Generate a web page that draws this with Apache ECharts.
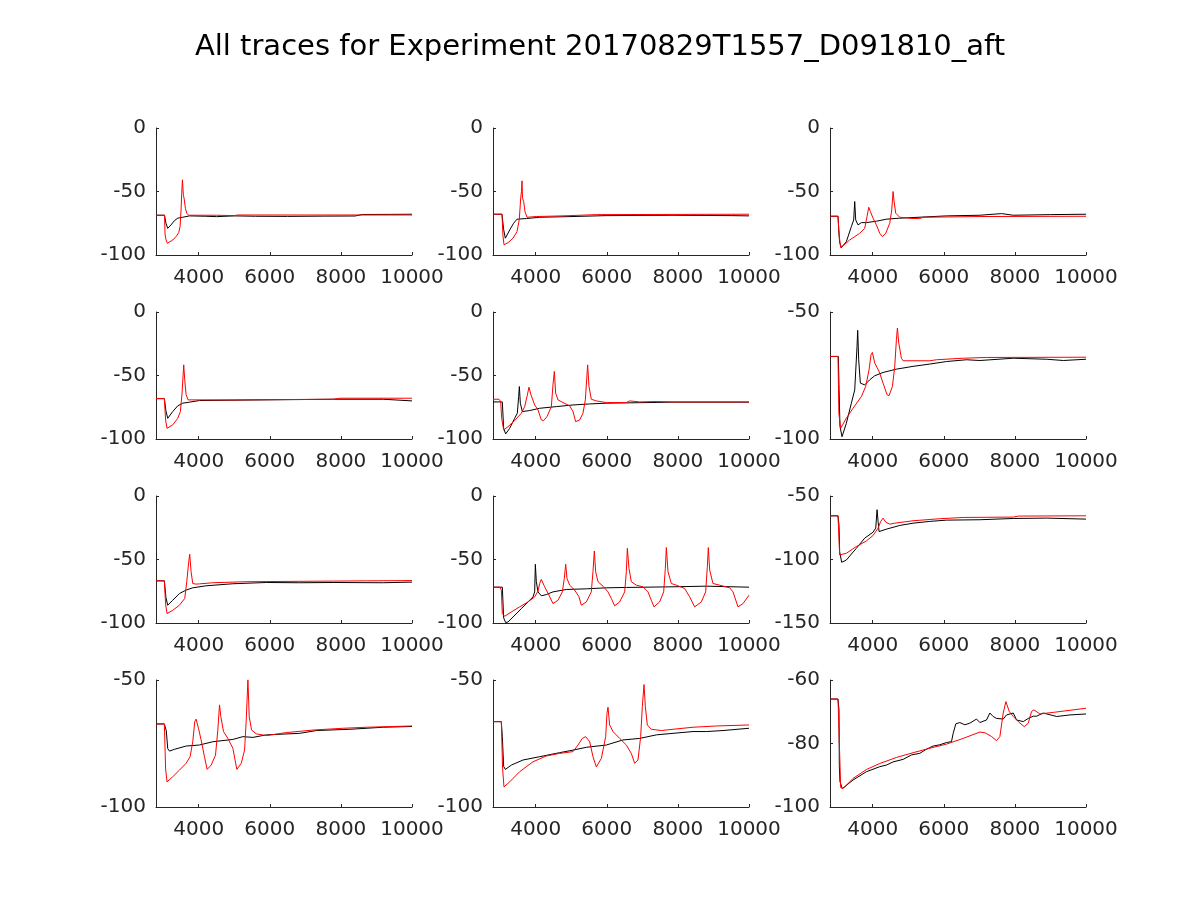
<!DOCTYPE html>
<html>
<head>
<meta charset="utf-8">
<title>All traces</title>
<script src="https://cdn.jsdelivr.net/npm/echarts@6/dist/echarts.min.js"></script>
<style>
  html, body { margin: 0; padding: 0; background: #fff; }
  #chart { width: 1200px; height: 900px; }
</style>
</head>
<body>
<div id="chart"></div>
<script>
// tick labels
const xTicks = [4000, 6000, 8000, 10000]
const yTicks = [
  [-100, -50, 0], [-100, -50, 0], [-100, -50, 0],
  [-100, -50, 0], [-100, -50, 0], [-100, -50],
  [-100, -50, 0], [-100, -50, 0], [-150, -100, -50],
  [-100, -50], [-100, -50], [-100, -80, -60]
]

// traces: [time, voltage]
const blk1 = [[2800,-68.7],[3040,-68.7],[3080,-75],[3130,-79],[3170,-78.5],[3223,-76.3],[3317,-73],[3411,-71],[3552,-70.3],[3740,-69.2],[4200,-69.5],[4500,-69.8],[5000,-69.2],[5600,-69.5],[6500,-69.6],[7500,-69.4],[8400,-69.3],[8600,-68.1],[9400,-68],[10000,-67.9]]
const red1 = [[2800,-68.7],[3040,-68.7],[3054,-83.4],[3082,-88],[3120,-90.8],[3176,-90],[3270,-88.2],[3364,-85.5],[3439,-82.4],[3477,-77.6],[3505,-64.5],[3524,-51.3],[3543,-40.8],[3561,-40.3],[3570,-53],[3590,-55.3],[3627,-63.2],[3665,-67.1],[3721,-68.7],[4500,-68.7],[5000,-69],[5100,-68.5],[10000,-68.5]]

const blk2 = [[2800,-67.9],[3053,-67.9],[3100,-80],[3147,-86.8],[3270,-80.3],[3380,-75],[3475,-71.8],[3737,-71.3],[4112,-70.3],[5050,-69.7],[5987,-69],[7862,-68.7],[9500,-69],[10000,-69.2]]
const red2 = [[2800,-67.9],[3053,-67.9],[3080,-85],[3110,-92],[3222,-90.3],[3362,-86.8],[3475,-81.6],[3540,-72],[3580,-55],[3600,-50],[3616,-41.6],[3630,-55],[3662,-57.9],[3700,-65.8],[3756,-70.3],[4019,-69.7],[4769,-69.2],[5706,-68.2],[10000,-67.9]]

const blk3 = [[2800,-69.5],[3025,-69.5],[3045,-80],[3070,-90],[3119,-94.2],[3260,-89.5],[3401,-77.6],[3466,-72.4],[3495,-57.9],[3523,-72.4],[3588,-76.3],[3682,-74.5],[3823,-74.5],[4105,-73.4],[4386,-71.8],[4762,-71],[5137,-70.5],[6076,-69.2],[7015,-68.7],[7625,-67.4],[7954,-68.7],[9000,-68.2],[10000,-67.9]]
const red3 = [[2800,-69.5],[3025,-69.5],[3060,-85],[3100,-94.2],[3354,-88.2],[3635,-82.9],[3776,-79],[3842,-69.7],[3889,-62.4],[3936,-65.8],[4011,-71],[4105,-76.3],[4199,-82.9],[4274,-85.5],[4368,-82.9],[4480,-75],[4537,-64.5],[4574,-50],[4603,-57.9],[4649,-67.1],[4762,-70.3],[5137,-71.3],[5325,-71.3],[5419,-70.3],[7015,-69.7],[10000,-69.5]]

const blk4 = [[2800,-68.2],[3035,-68.2],[3080,-78],[3130,-83.7],[3270,-78.4],[3411,-73.9],[3552,-71.8],[3740,-71],[4022,-69.7],[5902,-69.2],[7782,-68.7],[9192,-68.7],[10000,-70]]
const red4 = [[2800,-68.2],[3035,-68.2],[3070,-85],[3110,-91.6],[3270,-88.9],[3411,-83.7],[3486,-78.4],[3533,-63.9],[3580,-41.6],[3608,-53.4],[3646,-65],[3702,-69.2],[4962,-69.2],[4981,-68.7],[7782,-68.7],[7970,-67.9],[10000,-67.9]]

const blk5 = [[2800,-70.8],[3062,-70.8],[3100,-91.6],[3156,-96],[3269,-91.6],[3409,-83.7],[3484,-79.7],[3522,-66.6],[3541,-58.7],[3569,-71.8],[3625,-78.4],[3831,-77.6],[4112,-75.8],[4581,-74.5],[5050,-73.2],[5519,-72.4],[5987,-71.8],[7862,-71],[10000,-71]]
const red5 = [[2800,-68.7],[2969,-68.7],[3016,-70.5],[3044,-83.7],[3100,-92.9],[3222,-90.3],[3409,-85.5],[3597,-79.7],[3691,-74.5],[3756,-66.6],[3812,-59.2],[3869,-65.3],[3972,-73.2],[4066,-77.1],[4159,-85],[4225,-85.5],[4319,-82.4],[4441,-74.5],[4487,-57.4],[4525,-46.8],[4562,-63.9],[4628,-69.2],[4769,-71.3],[4956,-73.9],[5050,-78.4],[5125,-86.3],[5237,-85],[5331,-79.7],[5397,-69.2],[5434,-53.4],[5462,-41.6],[5500,-58.7],[5565,-68.7],[5706,-70],[5987,-71.3],[6550,-71.3],[6644,-70],[6925,-70.8],[7393,-70.5],[7862,-70.8],[10000,-70.8]]

const blk6 = [[2800,-67.5],[3035,-67.5],[3055,-80.4],[3080,-95],[3138,-99.1],[3260,-93.8],[3401,-85.9],[3495,-80.7],[3560,-63.6],[3579,-57.2],[3607,-68.8],[3654,-78],[3776,-78.7],[3917,-76.7],[4058,-75.1],[4293,-73.8],[4668,-72.5],[5137,-71.4],[5606,-70.5],[6076,-69.5],[6639,-68.8],[7015,-69.1],[7954,-68.2],[8893,-68.6],[9362,-69.1],[10000,-68.6]]
const red6 = [[2800,-67.5],[3025,-67.5],[3050,-90],[3100,-95.8],[3260,-91.8],[3447,-87.9],[3682,-83.3],[3804,-79.3],[3898,-72.8],[3954,-66.8],[3992,-65.9],[4058,-70.1],[4180,-73.4],[4293,-78],[4405,-82.6],[4462,-82.9],[4556,-79.3],[4621,-71.4],[4668,-60.9],[4696,-56.3],[4734,-62.2],[4809,-68.2],[4856,-69.2],[5606,-69.2],[5794,-68.8],[6545,-68.2],[7202,-67.9],[10000,-67.8]]

const blk7 = [[2800,-66.8],[3035,-66.8],[3080,-80],[3130,-86],[3270,-82.1],[3458,-76.8],[3646,-74.1],[3834,-72.3],[4210,-70.7],[4962,-69.1],[5902,-68.1],[6842,-68.3],[7782,-68.1],[9192,-68.3],[10000,-67.8]]
const red7 = [[2800,-66.8],[3035,-66.8],[3070,-85],[3110,-92.6],[3270,-90],[3458,-86],[3608,-80.7],[3665,-67.5],[3721,-51.7],[3749,-45.9],[3787,-59.6],[3834,-68.9],[3928,-69.4],[4022,-69.2],[4398,-68.3],[5338,-67.5],[8722,-66.8],[10000,-66.6]]

const blk8 = [[2800,-71.8],[3062,-71.8],[3100,-96],[3156,-99.7],[3222,-99.2],[3362,-95.3],[3597,-88.7],[3784,-83.4],[3925,-79.4],[3972,-75.5],[3991,-53.8],[4019,-67.5],[4066,-75.5],[4159,-78.6],[4300,-77.6],[4487,-75.5],[4862,-73.6],[5425,-73.1],[5987,-72.3],[6550,-72],[7862,-71.5],[8800,-71],[10000,-71.8]]
const red8 = [[2800,-71.8],[2988,-71.8],[3034,-74.1],[3062,-92.6],[3128,-94.7],[3316,-91.3],[3550,-87.3],[3784,-83.4],[3972,-79.4],[4066,-74.9],[4112,-68.9],[4159,-65.7],[4253,-71.5],[4375,-78.1],[4487,-84.7],[4628,-82.1],[4750,-75.5],[4806,-64.9],[4844,-53.8],[4881,-64.9],[4956,-70.2],[5097,-74.1],[5219,-79.4],[5284,-86],[5425,-83.4],[5565,-75.5],[5612,-59.6],[5650,-43.3],[5687,-59.6],[5753,-67.5],[5894,-71],[6034,-75.5],[6128,-80.7],[6222,-86.5],[6362,-83.4],[6503,-75.5],[6550,-59.6],[6578,-41.2],[6625,-57],[6690,-67.5],[6831,-70.2],[7019,-71.5],[7159,-75.5],[7253,-82.1],[7328,-87.3],[7487,-83.4],[7600,-75.5],[7647,-57],[7675,-40.6],[7722,-59.6],[7815,-68.9],[7956,-70.2],[8190,-72.8],[8331,-79.4],[8472,-87.3],[8659,-83.4],[8781,-75.5],[8828,-55.7],[8856,-40.6],[8894,-58.3],[8987,-68.9],[9175,-70.2],[9456,-72.3],[9550,-75.5],[9691,-87.3],[9831,-84.7],[10000,-78.1]]

const blk9 = [[2800,-65.6],[3025,-65.6],[3053,-73],[3072,-94],[3129,-102.2],[3260,-100.4],[3541,-91.2],[3776,-83.2],[4011,-78.5],[4086,-75.3],[4124,-60.8],[4152,-70],[4180,-78],[4387,-76.1],[4762,-73.2],[5137,-71.4],[5606,-70],[6076,-69],[7015,-68.7],[7954,-67.7],[8893,-67.4],[10000,-68.2]]
const red9 = [[2800,-65.6],[3025,-65.6],[3072,-96.4],[3100,-97.8],[3260,-95.1],[3541,-89.8],[3823,-85.4],[4011,-81.1],[4152,-75.3],[4227,-70],[4293,-67.4],[4368,-70.6],[4480,-72.2],[4621,-71.4],[5137,-69.5],[5888,-67.9],[6545,-66.9],[7954,-66.6],[8100,-65.8],[10000,-65.6]]

const blk10 = [[2800,-67.3],[3035,-67.3],[3090,-70],[3130,-77],[3180,-78],[3317,-77.3],[3646,-76],[4022,-75.6],[4398,-74.3],[4962,-73.4],[5244,-72.3],[5526,-72.6],[5902,-71.6],[6842,-71],[7312,-69.9],[8252,-69.4],[9192,-68.6],[10000,-68.3]]
const red10 = [[2800,-67.3],[3035,-67.3],[3070,-85],[3110,-90.1],[3270,-88.1],[3458,-85.5],[3646,-82.8],[3759,-80.2],[3834,-74.3],[3890,-66.4],[3928,-65.4],[3994,-69],[4069,-73.6],[4163,-80.2],[4238,-85.2],[4351,-83.5],[4473,-79.6],[4539,-69.7],[4586,-59.8],[4623,-64.4],[4699,-70.3],[4821,-73],[4962,-76.9],[5075,-85.2],[5197,-82.8],[5291,-77.6],[5338,-65.7],[5385,-49.9],[5422,-64.4],[5488,-69.7],[5620,-71.2],[5902,-71.9],[6466,-70.7],[7218,-69.7],[8064,-69],[8722,-68.6],[10000,-68.1]]

const blk11 = [[2800,-66.4],[3034,-66.4],[3062,-72.3],[3100,-84],[3147,-85.2],[3316,-83.5],[3644,-81.5],[4112,-80.2],[4675,-78.6],[5050,-77.6],[5425,-76.5],[5987,-75.6],[6456,-73.6],[6925,-73],[7394,-71.6],[7862,-71],[8425,-70.3],[8800,-70.3],[9269,-69.9],[10000,-69]]
const red11 = [[2800,-66.4],[3034,-66.4],[3070,-85],[3109,-92.1],[3269,-90.1],[3550,-86.1],[3925,-82.2],[4300,-79.9],[4675,-78.9],[5050,-78.2],[5191,-75.6],[5312,-73],[5406,-72.3],[5519,-74.3],[5612,-80.2],[5706,-84.2],[5847,-80.9],[5969,-72.3],[6006,-63.1],[6034,-60.7],[6081,-67.7],[6175,-70.3],[6362,-73],[6550,-75.6],[6690,-78.9],[6784,-82.8],[6878,-81.5],[6953,-72.3],[7000,-60.4],[7047,-51.8],[7084,-60.4],[7140,-67.7],[7253,-69.4],[7534,-69.9],[7862,-69.4],[8425,-68.6],[9081,-68.1],[10000,-67.7]]

const blk12 = [[2800,-66],[3025,-66],[3053,-69.4],[3062,-87],[3080,-92],[3147,-94.2],[3448,-91.5],[3823,-88.9],[4199,-87.3],[4386,-86.8],[4574,-85.8],[4856,-85],[5090,-83.6],[5325,-83.1],[5513,-81.8],[5701,-80.8],[5888,-80.4],[6076,-79.7],[6217,-79.4],[6264,-76.8],[6339,-73.8],[6451,-73.4],[6592,-74.1],[6733,-73.6],[6921,-72.3],[7015,-73.4],[7202,-72.6],[7296,-70.4],[7390,-71.5],[7484,-72.1],[7672,-72.3],[7766,-71],[7954,-70.4],[8048,-72.6],[8235,-73.1],[8376,-72.1],[8516,-71.4],[8610,-71.4],[8798,-70.4],[9174,-71.5],[9549,-71],[10000,-70.7]]
const red12 = [[2800,-66],[3025,-66],[3072,-83.2],[3100,-93.9],[3166,-94.2],[3448,-91],[3823,-88.2],[4199,-86.3],[4668,-84.4],[5137,-82.9],[5606,-81.5],[6076,-80.2],[6545,-78.4],[7015,-76.4],[7156,-76.6],[7343,-77.8],[7484,-79.1],[7578,-77.8],[7672,-70.4],[7747,-66.8],[7841,-69.9],[7954,-71.5],[8094,-73.1],[8263,-74.7],[8376,-73.6],[8469,-69.9],[8535,-69.4],[8704,-70.7],[9080,-70.2],[10000,-68.9]]

const blackTraces = [blk1, blk2, blk3, blk4, blk5, blk6, blk7, blk8, blk9, blk10, blk11, blk12]
const redTraces = [red1, red2, red3, red4, red5, red6, red7, red8, red9, red10, red11, red12]

const chart = echarts.init(document.getElementById('chart'))

const axisColor = '#262626'
const labelStyle = {
  color: axisColor, fontSize: 20, fontFamily: 'DejaVu Sans', margin: 10,
  formatter: v => String(v) // no thousands separator
}

const grids = []
const xAxes = []
const yAxes = []
const series = []

yTicks.forEach((ticks, i) => {
  const col = i % 3
  const row = Math.floor(i / 3)
  grids.push({ left: 156 + col * 337, top: 128 + row * 184, width: 256, height: 127, containLabel: false })
  xAxes.push({
    type: 'value', gridIndex: i, min: 2800, max: 10000,
    axisLine: { onZero: false, lineStyle: { color: axisColor, width: 1 } },
    axisTick: { inside: true, length: 3, customValues: xTicks, lineStyle: { color: axisColor } },
    axisLabel: Object.assign({}, labelStyle, { customValues: xTicks, margin: 13 }),
    splitLine: { show: false }
  })
  yAxes.push({
    type: 'value', gridIndex: i,
    min: ticks[0], max: ticks[ticks.length - 1], interval: ticks[1] - ticks[0],
    axisLine: { show: true, onZero: false, lineStyle: { color: axisColor, width: 1 } },
    axisTick: { show: true, inside: true, length: 3, lineStyle: { color: axisColor } },
    axisLabel: labelStyle,
    splitLine: { show: false }
  })
  // black first, red drawn over it
  series.push({
    type: 'line', xAxisIndex: i, yAxisIndex: i, data: blackTraces[i],
    showSymbol: false, silent: true, lineStyle: { color: '#000000', width: 1 }
  })
  series.push({
    type: 'line', xAxisIndex: i, yAxisIndex: i, data: redTraces[i],
    showSymbol: false, silent: true, lineStyle: { color: '#ff0000', width: 1 }
  })
})

chart.setOption({
  backgroundColor: '#ffffff',
  animation: false,
  title: {
    text: 'All traces for Experiment 20170829T1557_D091810_aft',
    left: 'center',
    top: 28,
    textStyle: { color: '#000000', fontSize: 29, fontWeight: 'normal', fontFamily: 'DejaVu Sans' }
  },
  grid: grids,
  xAxis: xAxes,
  yAxis: yAxes,
  series: series
})
</script>
</body>
</html>
